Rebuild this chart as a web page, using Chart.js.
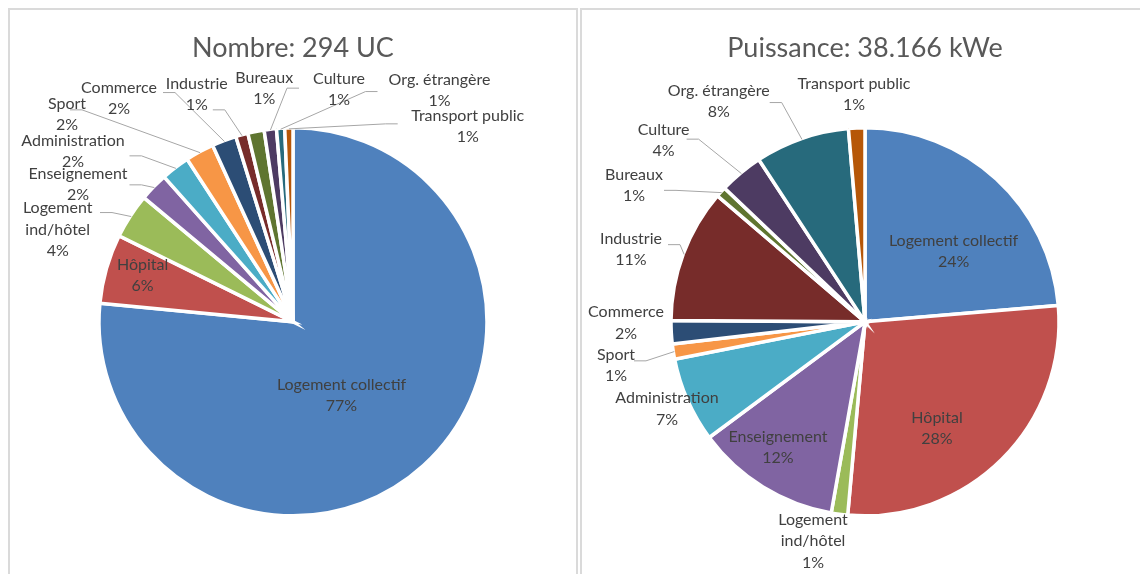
<!DOCTYPE html>
<html><head><meta charset="utf-8">
<script src="https://cdn.jsdelivr.net/npm/chart.js@4.4.1/dist/chart.umd.min.js"></script>
<style>
html,body{margin:0;padding:0;background:#fff;width:1140px;height:574px;overflow:hidden;position:relative;font-family:Lato,sans-serif}
.panel{position:absolute;top:8px;height:640px;border:2px solid #dadada;box-sizing:border-box}
#p1{left:8px;width:570px}
#p2{left:580px;width:640px}
canvas{position:absolute}
#c1{left:10px;top:10px}
#c2{left:582px;top:10px}
</style></head><body>
<div class="panel" id="p1"></div><div class="panel" id="p2"></div>
<canvas id="c1" width="565" height="564"></canvas>
<canvas id="c2" width="558" height="564"></canvas>
<script>
// ---- data ----
const categories = ['Logement collectif','Hôpital','Logement ind/hôtel','Enseignement','Administration','Sport','Commerce','Industrie','Bureaux','Culture','Org. étrangère','Transport public'];
const nombreValues = [225, 17, 11, 7, 7, 7, 6, 3, 4, 3, 2, 2];           // UC, total 294
const puissanceValues = [9026, 10600, 520, 4600, 2700, 480, 740, 4250, 330, 1400, 3000, 520]; // kWe, total 38166
const nombreTitle = 'Nombre: 294 UC';
const puissanceTitle = 'Puissance: 38.166 kWe';
const sliceColors = ['#4F81BD','#C0504D','#9BBB59','#8064A2','#4BACC6','#F79646','#2C4D75','#772C2A','#5F7530','#4D3B62','#276A7C','#B65708'];
const wrapped = {'Logement ind/hôtel': ['Logement','ind/hôtel']};

// label layout: [dx, dy] from pie centre to label centre, optional [ax, ay] leader attach offset from label centre
const nombreLabelLayout = [
  [48.5, 73.5], [-150.4, -46.7], [-235.3, -92.3, 42.3, -17], [-215, -137.5, 51.5, 0.5],
  [-220, -170.3, 56.5, 4.3], [-226, -207.2, 3, -4.8], [-174, -223.7, 44, -5.6], [-96.2, -227.8, 16, 15.8],
  [-28.7, -233.8], [46, -232.5, -40, -1.2], [146.5, -231.7, -62, 1.4], [174.7, -195.3, -70, -2.7]
];
const puissanceLabelLayout = [
  [88.6, -70.8], [72, 106.3], [-52, 219.4], [-87, 125.2],
  [-198, 87], [-249, 43.5, 18, -4.5], [-239, 1], [-234, -72.2, 37, -5],
  [-231, -136.5, 30, 5], [-201.4, -181.2, 23, -1.5], [-146.3, -220.8, 51, 1.5], [-11, -227.8]
];

const FONT = 'Lato, sans-serif';
const sliceLabels = {
  id: 'sliceLabels',
  afterDatasetsDraw(chart, args, opts) {
    const ctx = chart.ctx;
    const meta = chart.getDatasetMeta(0);
    const data = chart.data.datasets[0].data;
    const total = data.reduce((a, b) => a + b, 0);
    const layout = opts.layout;
    ctx.save();
    // leaders
    ctx.strokeStyle = '#a6a6a6';
    ctx.lineWidth = 1;
    meta.data.forEach((arc, i) => {
      const L = layout[i];
      if (L.length < 4) return;
      const p = arc.getProps(['x', 'y', 'startAngle', 'endAngle', 'outerRadius'], true);
      const mid = (p.startAngle + p.endAngle) / 2;
      const sx = p.x + Math.cos(mid) * (p.outerRadius - 1);
      const sy = p.y + Math.sin(mid) * (p.outerRadius - 1);
      const ex = p.x + L[0] + L[2], ey = p.y + L[1] + L[3];
      const dir = sx > ex ? 1 : -1;
      ctx.beginPath();
      ctx.moveTo(sx, sy);
      ctx.lineTo(ex + dir * 12, ey);
      ctx.lineTo(ex, ey);
      ctx.stroke();
    });
    // texts
    ctx.font = opts.size + 'px ' + FONT;
    ctx.fillStyle = '#404040';
    ctx.textAlign = 'center';
    ctx.textBaseline = 'middle';
    const lh = opts.lineHeight;
    meta.data.forEach((arc, i) => {
      const L = layout[i];
      const p = arc.getProps(['x', 'y'], true);
      const name = chart.data.labels[i];
      const lines = (wrapped[name] || [name]).concat([Math.round(data[i] / total * 100) + '%']);
      const cx = p.x + L[0], cy = p.y + L[1];
      const top = cy - (lines.length - 1) * lh / 2;
      lines.forEach((t, k) => ctx.fillText(t, cx, top + k * lh));
    });
    ctx.restore();
  }
};

function makePie(id, values, title, layout, padLeft) {
  return new Chart(document.getElementById(id), {
    type: 'pie',
    data: {
      labels: categories,
      datasets: [{ data: values, backgroundColor: sliceColors, borderColor: '#ffffff', borderWidth: 3.5, borderJoinStyle: 'miter' }]
    },
    options: {
      responsive: false,
      animation: false,
      events: [],
      radius: 194,
      layout: { padding: { left: padLeft, right: 0, top: 0, bottom: 4.7 } },
      plugins: {
        legend: { display: false },
        tooltip: { enabled: false },
        title: {
          display: true, text: title, color: '#595959',
          font: { family: FONT, size: 27, weight: 'normal' },
          padding: { top: 22, bottom: 10 }
        },
        sliceLabels: { layout: layout, size: 16, lineHeight: 21.3 }
      }
    },
    plugins: [sliceLabels]
  });
}
makePie('c1', nombreValues, nombreTitle, nombreLabelLayout, 1);
makePie('c2', puissanceValues, puissanceTitle, puissanceLabelLayout, 8);
</script>
</body></html>
